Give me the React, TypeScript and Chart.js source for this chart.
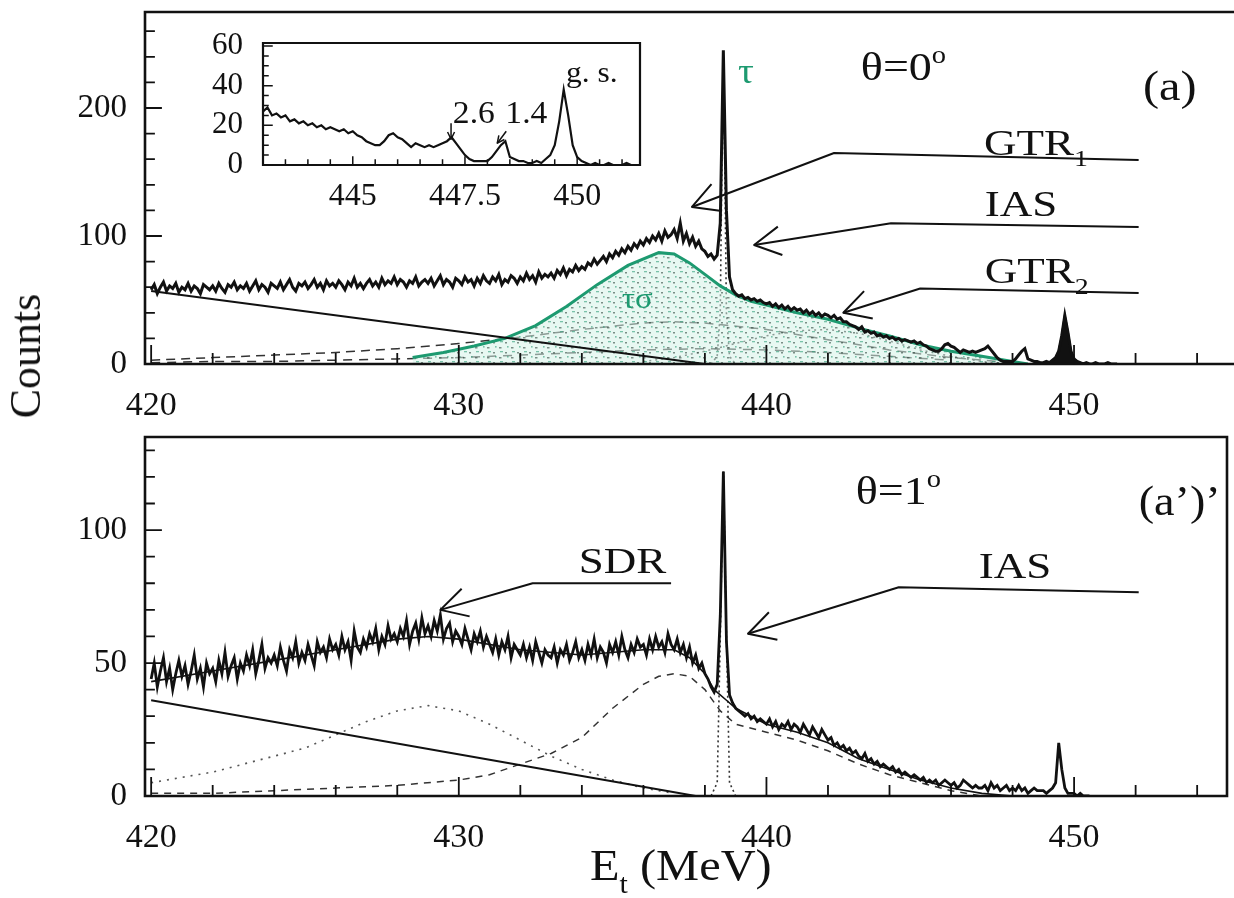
import React, { useEffect, useRef } from "react";
import { Chart, registerables } from "chart.js";
Chart.register(...registerables);

const FONT = "'Liberation Serif', 'DejaVu Serif', serif";
const INK = "#111";
const GREEN = "#1d9a70";

// Spectrum channels: start energy and channel width (MeV)
const E_START = 420.0;
const E_STEP = 0.1;

// Panel (a), theta = 0 deg: counts per channel, 420.0 ... 451.4 MeV
const topCounts: number[] = [
  58, 62, 55, 60, 64, 57, 61, 59, 63, 56,
  60, 58, 63, 57, 61, 59, 55, 62, 60, 58,
  61, 57, 63, 59, 56, 62, 60, 64, 58, 61,
  59, 63, 57, 61, 65, 58, 62, 60, 56, 63,
  61, 59, 64, 58, 62, 66, 60, 57, 63, 61,
  64, 59, 62, 66, 60, 63, 58, 65, 61, 63,
  60, 65, 62, 58, 64, 61, 67, 60, 63, 59,
  63, 66, 61, 64, 60, 67, 62, 65, 63, 68,
  62, 66, 64, 60, 65, 63, 68, 61, 64, 66,
  63, 67, 61, 65, 69, 62, 66, 64, 60, 67,
  65, 62, 68, 64, 66, 61, 67, 63, 69, 65,
  63, 68, 65, 70, 62, 66, 64, 69, 67, 63,
  68, 65, 71, 66, 69, 64, 72, 67, 70, 68,
  71, 67, 73, 70, 75, 69, 74, 72, 77, 73,
  76, 74, 79, 77, 82, 78, 81, 84, 80, 86,
  83, 88, 85, 90, 87, 92, 89, 94, 91, 96,
  93, 98, 95, 100, 97, 102, 96, 104, 99, 101,
  105, 98, 110, 96, 102, 94, 99, 92, 96, 90,
  88, 84, 86, 82, 85, 110, 245, 120, 68, 58,
  55, 53, 54, 51, 52, 50, 51, 49, 50, 48,
  47, 48, 45, 47, 44, 46, 43, 45, 42, 44,
  42, 43, 40, 42, 39, 41, 38, 40, 37, 39,
  38, 36, 38, 35, 36, 33, 33, 31, 30, 29,
  27, 29, 25, 26, 24, 25, 22, 23, 21, 22,
  20, 21, 19, 20, 18, 19, 18, 17, 18, 16,
  17, 15, 14, 12, 11, 10, 10, 12, 15, 16,
  14, 13, 11, 9, 11, 10, 9, 10, 9, 10,
  11, 12, 14, 11, 8, 5, 3, 2, 2, 2,
  2, 4, 7, 10, 12, 4, 3, 2, 2, 1,
  1, 2, 1, 3, 5, 10, 22, 38, 25, 10,
  4, 2, 1, 0, 1, 0, 0, 1, 0, 0,
  0, 1, 0, 0, 0,
];

// Panel (a'), theta = 1 deg: counts per channel, 420.0 ... 450.5 MeV
const botCounts: number[] = [
  44, 50, 41, 47, 52, 43, 48, 40, 46, 51,
  45, 49, 42, 47, 53, 44, 48, 41, 50, 46,
  48, 43, 51, 46, 54, 45, 49, 52, 44, 50,
  47, 53, 49, 55, 46, 51, 57, 48, 52, 50,
  53, 49, 56, 51, 47, 55, 52, 58, 50, 54,
  51, 57, 53, 49, 58, 54, 56, 52, 59, 55,
  57, 53, 60, 55, 58, 51, 62, 56, 54, 59,
  56, 61, 58, 63, 55, 60, 57, 64, 59, 61,
  58, 63, 60, 66, 57, 62, 65, 59, 67, 61,
  64, 60, 66, 62, 68, 59, 63, 65, 58, 62,
  60, 57, 63, 59, 55, 61, 58, 62, 56, 60,
  57, 54, 59, 53, 58, 55, 60, 52, 57, 55,
  53, 57, 52, 56, 51, 58, 54, 50, 55, 53,
  52, 56, 50, 55, 53, 57, 51, 54, 58, 52,
  55, 51, 57, 53, 59, 52, 56, 54, 50, 57,
  54, 58, 53, 60, 55, 52, 57, 54, 59, 56,
  57, 53, 59, 55, 60, 56, 58, 54, 61, 57,
  55, 59, 54, 57, 52, 56, 50, 53, 48, 50,
  46, 44, 41, 39, 42, 68, 122, 58, 38, 35,
  33, 32, 31, 30, 31, 29, 30, 28, 29, 28,
  27, 29, 26, 28, 25, 27, 26, 28, 25, 27,
  26, 24, 27, 25, 23, 26, 24, 22, 25, 23,
  21, 22, 19, 20, 18, 19, 17, 18, 16, 17,
  15, 14, 16, 13, 14, 12, 13, 11, 12, 11,
  10, 11, 9, 10, 8, 9, 8, 7, 8, 7,
  6, 7, 5, 6, 5, 6, 4, 5, 6, 5,
  4, 5, 3, 4, 6, 5, 4, 3, 4, 3,
  3, 4, 2, 5, 3, 4, 2, 3, 4, 2,
  3, 2, 4, 2, 3, 1, 2, 3, 2, 2,
  2, 1, 2, 3, 5, 20, 10, 3, 1, 1,
  1, 0, 1, 0, 0, 0,
];

// Fit components, panel (a)
const topBgE = [420, 438];
const topBg = [57, 0];
const topLowE = [420, 422, 424, 426, 428, 430, 432, 434, 436, 438, 440, 442, 444, 446];
const topLow = [1, 2, 2, 3, 4, 5, 7, 9, 11, 12, 11, 9, 6, 3];
const topBroadE = [420, 422, 424, 426, 428, 430, 432, 434, 436, 437, 438, 440, 442, 444, 446, 448];
const topBroad = [3, 5, 7, 9, 12, 16, 21, 27, 32, 33, 32, 27, 19, 11, 5, 1];
const topGtr2E = [436, 437, 438, 439, 440, 441, 442, 443, 444, 445, 446, 447, 448];
const topGtr2 = [2, 5, 10, 16, 22, 26, 27, 24, 18, 11, 6, 2, 0];
const topIasE = [438.2, 438.4, 438.5, 438.55, 438.6, 438.65, 438.7, 438.8, 439.0];
const topIas = [0, 6, 40, 150, 240, 150, 40, 6, 0];
const topTauSigE = [428.5, 429.5, 430.5, 431.5, 432.5, 433.5, 434.5, 435.5, 436.5, 437, 437.5, 438, 438.5, 439, 439.5, 440, 441, 442, 443, 444, 445, 446, 447, 448, 448.5];
const topTauSig = [5, 9, 14, 20, 30, 45, 62, 77, 87, 86, 79, 70, 61, 54, 49, 46, 40, 35, 28, 22, 15, 10, 6, 2, 0];

// Fit components, panel (a')
const botBgE = [420, 437.7];
const botBg = [36, 0];
const botGtrE = [420, 422, 424, 426, 428, 430, 431, 432, 433, 434, 435, 436, 436.5, 437, 437.5, 438, 438.5, 439, 440, 441, 442, 443, 444, 445, 446, 447];
const botGtr = [1, 1, 2, 3, 4, 6, 8, 12, 16, 22, 33, 42, 45, 46, 45, 40, 32, 27, 24, 21, 17, 12, 8, 5, 2, 0];
const botSdrE = [420, 421, 422, 423, 424, 425, 426, 427, 428, 429, 430, 431, 432, 433, 434, 435, 436, 437];
const botSdr = [5, 7, 9, 12, 15, 18, 23, 28, 32, 34, 32, 27, 21, 15, 10, 6, 3, 1];
const botIasE = [438.2, 438.4, 438.5, 438.6, 438.7, 438.8, 439.0];
const botIas = [0, 5, 60, 122, 60, 5, 0];
const botFitE = [420, 422, 424, 426, 428, 429, 430, 432, 434, 436, 437, 437.5, 438, 438.3, 438.7, 439, 439.5, 440, 441, 442, 443, 444, 445, 446, 447, 448];
const botFit = [43, 47, 51, 55, 59, 60, 59, 55, 53, 55, 55, 52, 46, 40, 36, 33, 30, 27, 24, 20, 14, 10, 6, 3, 1, 0];

// Axis tick labels
const xLabels = [420, 430, 440, 450];
const topYLabels = [0, 100, 200];
const botYLabels = [0, 50, 100];
const insetXLabels = [445, 447.5, 450];
const insetYLabels = [0, 20, 40, 60];

type P = { x: number; y: number };
const channels = (arr: number[]): P[] =>
  arr.map((y, i) => ({ x: Math.round((E_START + i * E_STEP) * 100) / 100, y }));
const pairs = (es: number[], vs: number[]): P[] => es.map((x, i) => ({ x, y: vs[i] }));

type Seg = { t: string; sub?: boolean; sup?: boolean };
function drawRich(ctx: CanvasRenderingContext2D, segs: Seg[], x: number, y: number, size: number, color = INK, hs = 1.25) {
  let cx = x;
  ctx.save();
  ctx.fillStyle = color;
  ctx.textAlign = "left";
  ctx.textBaseline = "alphabetic";
  for (const s of segs) {
    const fs = s.sub || s.sup ? size * 0.62 : size;
    const dy = s.sub ? size * 0.3 : s.sup ? -size * 0.42 : 0;
    ctx.font = `${fs}px ${FONT}`;
    ctx.save();
    ctx.translate(cx, y + dy);
    ctx.scale(hs, 1);
    ctx.fillText(s.t, 0, 0);
    ctx.restore();
    cx += ctx.measureText(s.t).width * hs;
  }
  ctx.restore();
}

function leader(ctx: CanvasRenderingContext2D, pts: number[][], lw = 2, len = 30, ang = 0.5) {
  ctx.save();
  ctx.strokeStyle = INK;
  ctx.lineWidth = lw;
  ctx.lineJoin = "round";
  ctx.beginPath();
  pts.forEach((p, i) => (i ? ctx.lineTo(p[0], p[1]) : ctx.moveTo(p[0], p[1])));
  ctx.stroke();
  const [tx, ty] = pts[0];
  const [fx, fy] = pts[1];
  const a = Math.atan2(fy - ty, fx - tx);
  ctx.beginPath();
  ctx.moveTo(tx + len * Math.cos(a + ang), ty + len * Math.sin(a + ang));
  ctx.lineTo(tx, ty);
  ctx.lineTo(tx + len * Math.cos(a - ang), ty + len * Math.sin(a - ang));
  ctx.stroke();
  ctx.restore();
}

type FrameOpts = {
  xMinor: number; xMajor: number; yMinor: number; yMajor: number;
  xMin: number; xMaj: number; yMin: number; yMaj: number; lw: number; right: boolean;
};
function frameTicks(o: FrameOpts) {
  return {
    id: "frameTicks",
    afterDatasetsDraw(chart: any) {
      const { ctx, chartArea: a, scales } = chart;
      const xs = scales.x, ys = scales.y;
      ctx.save();
      ctx.strokeStyle = INK;
      ctx.lineWidth = o.lw;
      ctx.lineCap = "square";
      ctx.beginPath();
      if (o.right) {
        ctx.rect(a.left, a.top, a.right - a.left, a.bottom - a.top);
      } else {
        ctx.moveTo(a.right + 5, a.top);
        ctx.lineTo(a.left, a.top);
        ctx.lineTo(a.left, a.bottom);
        ctx.lineTo(a.right + 5, a.bottom);
      }
      ctx.stroke();
      ctx.lineWidth = Math.max(1.5, o.lw - 0.8);
      ctx.beginPath();
      for (let k = Math.ceil(xs.min / o.xMinor - 1e-9); k * o.xMinor <= xs.max + 1e-9; k++) {
        const v = k * o.xMinor;
        const major = Math.abs(v / o.xMajor - Math.round(v / o.xMajor)) < 1e-6;
        const px = xs.getPixelForValue(v);
        ctx.moveTo(px, a.bottom);
        ctx.lineTo(px, a.bottom - (major ? o.xMaj : o.xMin));
      }
      for (let k = Math.ceil(ys.min / o.yMinor - 1e-9); k * o.yMinor <= ys.max + 1e-9; k++) {
        const v = k * o.yMinor;
        const major = Math.abs(v / o.yMajor - Math.round(v / o.yMajor)) < 1e-6;
        const py = ys.getPixelForValue(v);
        ctx.moveTo(a.left, py);
        ctx.lineTo(a.left + (major ? o.yMaj : o.yMin), py);
      }
      ctx.stroke();
      ctx.restore();
    },
  };
}

function xScale(min: number, max: number, labels: number[], h: number, size: number, pad: number) {
  return {
    type: "linear" as const,
    min, max,
    grid: { display: false },
    border: { display: false },
    afterBuildTicks: (s: any) => { s.ticks = labels.map((v) => ({ value: v })); },
    afterFit: (s: any) => { s.height = h; s.paddingLeft = 0; s.paddingRight = 0; },
    ticks: { autoSkip: false, maxRotation: 0, padding: pad, color: INK, font: { family: FONT, size }, callback: (v: any) => String(v) },
  };
}
function yScale(min: number, max: number, labels: number[], w: number, size: number, pad: number) {
  return {
    type: "linear" as const,
    min, max,
    grid: { display: false },
    border: { display: false },
    afterBuildTicks: (s: any) => { s.ticks = labels.map((v) => ({ value: v })); },
    afterFit: (s: any) => { s.width = w; s.paddingTop = 0; s.paddingBottom = 0; },
    ticks: { autoSkip: false, padding: pad, color: INK, font: { family: FONT, size }, callback: (v: any) => String(v) },
  };
}

function line(data: P[], color: string, width: number, dash: number[] = [], extra: any = {}) {
  return { data, borderColor: color, borderWidth: width, borderDash: dash, pointRadius: 0, tension: 0, fill: false, ...extra };
}

function makePattern(ctx: CanvasRenderingContext2D) {
  const c = document.createElement("canvas");
  c.width = 12;
  c.height = 10;
  const g = c.getContext("2d")!;
  g.fillStyle = "rgba(214,243,232,0.55)";
  g.fillRect(0, 0, 12, 10);
  g.fillStyle = "rgba(30,55,45,0.55)";
  g.fillRect(1, 2, 2, 1.5);
  g.fillRect(7, 7, 2.5, 1.5);
  g.fillStyle = "rgba(30,150,110,0.55)";
  g.fillRect(8, 1, 3, 1.3);
  g.fillRect(3, 6, 1.6, 1.6);
  return ctx.createPattern(c, "repeat");
}

export default function App() {
  const topRef = useRef<HTMLCanvasElement>(null);
  const botRef = useRef<HTMLCanvasElement>(null);
  const insRef = useRef<HTMLCanvasElement>(null);

  useEffect(() => {
    const charts: Chart[] = [];
    const topSpec = channels(topCounts);
    const botSpec = channels(botCounts);
    const gsPeak = topSpec.filter((p) => p.x >= 449.2 && p.x <= 450.2);

    // ---------- Panel (a) ----------
    const tctx = topRef.current!.getContext("2d")!;
    const topAnno = {
      id: "topAnno",
      afterDraw(chart: any) {
        const { ctx, scales: { x, y } } = chart;
        const X = (e: number) => x.getPixelForValue(e);
        const Y = (c: number) => y.getPixelForValue(c);
        const P = (e: number, c: number) => [X(e), Y(c)];
        leader(ctx, [P(437.58, 122.7), P(442.2, 164.8), P(452.1, 159.4)]);
        drawRich(ctx, [{ t: "GTR" }, { t: "1", sub: true }], X(447.07), Y(163), 36);
        leader(ctx, [P(439.6, 93), P(444.05, 110), P(452.1, 107)]);
        drawRich(ctx, [{ t: "IAS" }], X(447.1), Y(116), 36);
        leader(ctx, [P(442.5, 40), P(445.0, 59), P(452.1, 55.5)]);
        drawRich(ctx, [{ t: "GTR" }, { t: "2", sub: true }], X(447.1), Y(63), 36);
        drawRich(ctx, [{ t: "θ=0" }, { t: "o", sup: true }], X(443.07), Y(222), 40, INK, 1.15);
        drawRich(ctx, [{ t: "(a)" }], X(452.24), Y(206), 42, INK, 1.15);
        drawRich(ctx, [{ t: "τ" }], X(439.08), Y(219.5), 36, GREEN, 1.1);
        drawRich(ctx, [{ t: "τσ" }], X(435.3), Y(43.75), 30, GREEN, 1.1);
      },
    };
    charts.push(
      new Chart(tctx, {
        type: "line",
        data: {
          datasets: [
            line(topSpec, INK, 3),
            line(gsPeak, INK, 2, [], { fill: "origin", backgroundColor: INK }),
            line(pairs(topBgE, topBg), INK, 2),
            line(pairs(topTauSigE, topTauSig), GREEN, 3, [], { fill: "origin", backgroundColor: makePattern(tctx) }),
            line(pairs(topIasE, topIas), "#333", 1.6, [2, 3]),
            line(pairs(topGtr2E, topGtr2), "#333", 1.5, [2, 4]),
            line(pairs(topBroadE, topBroad), "#333", 1.5, [9, 6]),
            line(pairs(topLowE, topLow), "#333", 1.5, [9, 7]),
          ] as any,
        },
        options: {
          responsive: false,
          animation: false,
          devicePixelRatio: 1,
          layout: { padding: { top: 12, left: 0, right: 0, bottom: 0 } },
          plugins: { legend: { display: false }, tooltip: { enabled: false } },
          scales: {
            x: xScale(419.8, 455.2, xLabels, 56, 34, 14),
            y: yScale(0, 275, topYLabels, 145, 33, 10),
          } as any,
        },
        plugins: [frameTicks({ xMinor: 2, xMajor: 10, yMinor: 20, yMajor: 100, xMin: 10, xMaj: 18, yMin: 9, yMaj: 16, lw: 2.6, right: false }), topAnno],
      })
    );

    // ---------- Inset ----------
    const ictx = insRef.current!.getContext("2d")!;
    const insAnno = {
      id: "insAnno",
      beforeDraw(chart: any) {
        const { ctx, chartArea: a } = chart;
        ctx.save();
        ctx.fillStyle = "#fff";
        ctx.fillRect(a.left, a.top, a.right - a.left, a.bottom - a.top);
        ctx.restore();
      },
      afterDraw(chart: any) {
        const { ctx, scales: { x, y } } = chart;
        const P = (e: number, c: number) => [x.getPixelForValue(e), y.getPixelForValue(c)];
        drawRich(ctx, [{ t: "2.6" }], P(447.23, 21.1)[0], P(447.23, 21.1)[1], 32, INK, 1.05);
        leader(ctx, [P(447.19, 13), P(447.19, 21)], 1.5, 8, 0.45);
        drawRich(ctx, [{ t: "1.4" }], P(448.4, 21)[0], P(448.4, 21)[1], 32, INK, 1.05);
        leader(ctx, [P(448.22, 11), P(448.42, 17)], 1.5, 8, 0.45);
        drawRich(ctx, [{ t: "g. s." }], P(449.75, 42)[0], P(449.75, 42)[1], 30, INK, 1.05);
      },
    };
    charts.push(
      new Chart(ictx, {
        type: "line",
        data: { datasets: [line(topSpec, INK, 2.2)] as any },
        options: {
          responsive: false,
          animation: false,
          devicePixelRatio: 1,
          layout: { padding: { top: 25, left: 0, right: 20, bottom: 0 } },
          plugins: { legend: { display: false }, tooltip: { enabled: false } },
          scales: {
            x: xScale(443.0, 451.4, insetXLabels, 53, 32, 4),
            y: yScale(0, 61.5, insetYLabels, 83, 31, 12),
          } as any,
        },
        plugins: [insAnno, frameTicks({ xMinor: 0.5, xMajor: 2.5, yMinor: 5, yMajor: 20, xMin: 5, xMaj: 8, yMin: 5, yMaj: 9, lw: 2.2, right: true })],
      })
    );

    // ---------- Panel (a') ----------
    const bctx = botRef.current!.getContext("2d")!;
    const botAnno = {
      id: "botAnno",
      afterDraw(chart: any) {
        const { ctx, scales: { x, y } } = chart;
        const X = (e: number) => x.getPixelForValue(e);
        const Y = (c: number) => y.getPixelForValue(c);
        const P = (e: number, c: number) => [X(e), Y(c)];
        leader(ctx, [P(429.4, 70), P(432.4, 80), P(436.9, 80)]);
        drawRich(ctx, [{ t: "SDR" }], X(433.9), Y(84), 36);
        leader(ctx, [P(439.4, 61), P(444.3, 78.5), P(452.1, 76.6)]);
        drawRich(ctx, [{ t: "IAS" }], X(446.9), Y(82), 36);
        drawRich(ctx, [{ t: "θ=1" }, { t: "o", sup: true }], X(442.9), Y(109.8), 40, INK, 1.15);
        drawRich(ctx, [{ t: "(a’)’" }], X(452.1), Y(105.7), 42, INK, 1.1);
        // x-axis title
        drawRich(ctx, [{ t: "E" }, { t: "t", sub: true }, { t: " (MeV)" }], 590, 460, 44, INK, 1.1);
      },
    };
    charts.push(
      new Chart(bctx, {
        type: "line",
        data: {
          datasets: [
            line(botSpec, INK, 2.8),
            line(pairs(botFitE, botFit), INK, 1.6),
            line(pairs(botBgE, botBg), INK, 2),
            line(pairs(botIasE, botIas), "#333", 1.6, [2, 3]),
            line(pairs(botSdrE, botSdr), "#555", 1.6, [2, 6]),
            line(pairs(botGtrE, botGtr), "#333", 1.5, [7, 6]),
          ] as any,
        },
        options: {
          responsive: false,
          animation: false,
          devicePixelRatio: 1,
          layout: { padding: { top: 17, left: 0, right: 7, bottom: 0 } },
          plugins: { legend: { display: false }, tooltip: { enabled: false } },
          scales: {
            x: xScale(419.8, 454.97, xLabels, 102, 34, 14),
            y: yScale(0, 135, botYLabels, 145, 33, 10),
          } as any,
        },
        plugins: [frameTicks({ xMinor: 2, xMajor: 10, yMinor: 10, yMajor: 50, xMin: 10, xMaj: 18, yMin: 9, yMaj: 16, lw: 2.6, right: true }), botAnno],
      })
    );

    return () => charts.forEach((c) => c.destroy());
  }, []);

  return (
    <div style={{ position: "absolute", left: 0, top: 0, width: 1234, height: 898, background: "#fff", overflow: "hidden" }}>
      <canvas ref={topRef} width={1234} height={420} style={{ position: "absolute", left: 0, top: 0, width: 1234, height: 420 }} />
      <canvas ref={botRef} width={1234} height={478} style={{ position: "absolute", left: 0, top: 420, width: 1234, height: 478 }} />
      <canvas ref={insRef} width={480} height={200} style={{ position: "absolute", left: 180, top: 18, width: 480, height: 200 }} />
      <div
        style={{
          position: "absolute",
          left: 26,
          top: 356,
          transform: "translate(-50%, -50%) rotate(-90deg)",
          font: `44px ${FONT}`,
          color: INK,
          whiteSpace: "nowrap",
          lineHeight: 1,
        }}
      >
        Counts
      </div>
    </div>
  );
}
